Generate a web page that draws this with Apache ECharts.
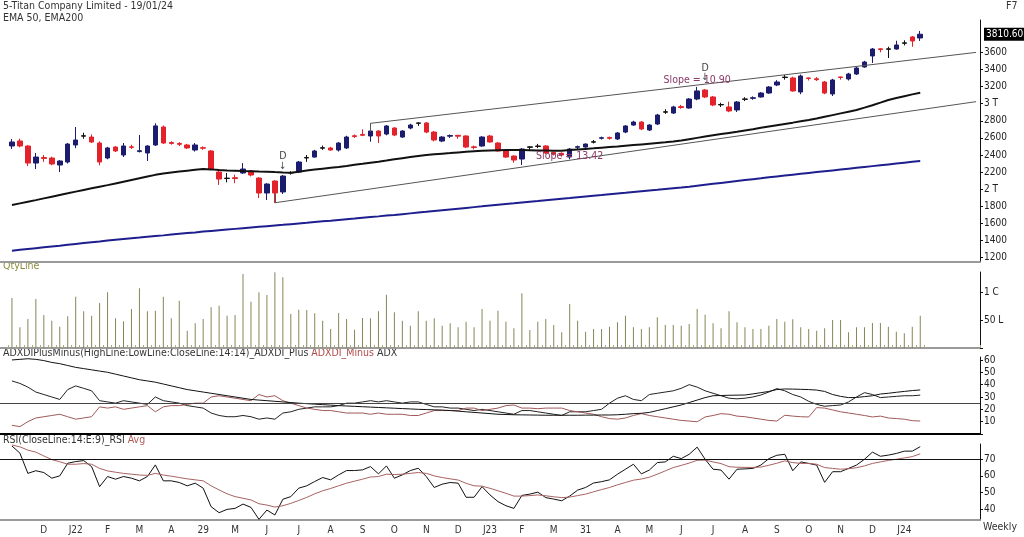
<!DOCTYPE html>
<html><head><meta charset="utf-8">
<script src="https://cdn.jsdelivr.net/npm/echarts@6/dist/echarts.min.js"></script>
<style>html,body{margin:0;padding:0;background:#fff}#c{width:1024px;height:537px}</style>
</head><body><div id="c"></div>
<script>
// weekly candles [open, high, low, close]
const candles = [
[2505,2587,2470,2552],[2564,2590,2490,2505],[2505,2515,2270,2306],[2306,2423,2236,2376],[2370,2400,2320,2360],
[2365,2380,2280,2295],[2283,2340,2200,2330],[2318,2540,2300,2528],[2517,2727,2480,2575],[2620,2660,2590,2625],
[2610,2640,2540,2552],[2540,2560,2280,2318],[2365,2495,2350,2482],[2493,2505,2435,2447],[2400,2540,2376,2505],
[2495,2520,2470,2490],[2440,2634,2430,2450],[2423,2515,2330,2505],[2517,2770,2505,2740],[2727,2745,2530,2540],
[2545,2560,2520,2535],[2535,2550,2505,2525],[2517,2530,2470,2482],[2458,2540,2440,2517],[2485,2500,2460,2480],
[2447,2458,2225,2236],[2201,2215,2050,2119],[2125,2190,2080,2130],[2135,2170,2070,2125],[2190,2305,2180,2236],
[2213,2225,2150,2166],[2131,2140,1897,1956],[1956,2070,1874,2061],[2096,2105,1840,1956],[1968,2166,1945,2154],
[2190,2210,2170,2195],[2201,2330,2190,2318],[2365,2400,2320,2370],[2376,2460,2370,2447],[2480,2510,2460,2485],
[2482,2495,2450,2458],[2458,2550,2440,2540],[2482,2625,2470,2610],[2625,2640,2600,2615],[2640,2700,2620,2630],
[2622,2770,2555,2680],[2680,2690,2540,2622],[2645,2750,2630,2739],[2715,2725,2620,2633],[2610,2690,2600,2680],
[2715,2765,2700,2750],[2770,2780,2740,2775],[2774,2785,2655,2668],[2668,2680,2560,2575],[2563,2620,2550,2610],
[2620,2640,2600,2627],[2630,2632,2590,2620],[2622,2630,2480,2493],[2495,2510,2465,2488],[2505,2620,2495,2610],
[2622,2635,2545,2552],[2540,2550,2440,2447],[2447,2455,2365,2376],[2388,2395,2310,2341],[2353,2480,2283,2470],
[2490,2500,2460,2495],[2500,2530,2480,2505],[2505,2515,2410,2423],[2430,2440,2395,2410],[2420,2430,2380,2400],
[2376,2480,2350,2470],[2490,2510,2470,2497],[2493,2535,2485,2528],[2550,2575,2535,2555],[2595,2615,2580,2602],
[2605,2615,2580,2595],[2587,2668,2575,2657],[2668,2750,2655,2739],[2750,2800,2740,2785],[2785,2795,2690,2704],
[2692,2760,2680,2750],[2762,2880,2750,2867],[2900,2935,2880,2905],[2890,2975,2880,2961],[2965,2985,2940,2955],
[2949,3065,2940,3054],[3054,3195,3040,3148],[3159,3170,3065,3078],[3078,3090,2970,2984],[2985,3010,2960,2990],
[2961,3023,2900,2914],[2926,3030,2902,3019],[3050,3075,3030,3055],[3062,3085,3045,3069],[3078,3135,3070,3124],
[3124,3205,3115,3194],[3218,3275,3205,3253],[3305,3335,3280,3310],[3300,3315,3140,3148],[3136,3340,3110,3323],
[3300,3305,3270,3295],[3290,3310,3265,3280],[3253,3265,3110,3124],[3113,3290,3089,3276],[3312,3315,3280,3305],
[3288,3360,3270,3346],[3346,3430,3335,3416],[3428,3500,3420,3486],[3557,3650,3475,3638],[3640,3645,3600,3632],
[3635,3665,3533,3640],[3638,3735,3630,3685],[3705,3740,3680,3710],[3779,3790,3665,3732],[3767,3849,3732,3810.6]
];
const ema50 = [1815,1835,1855,1873,1893,1913,1933,1952,1972,1992,2011,2030,2048,2068,2088,2108,2128,2148,2168,2185,
2196,2207,2217,2227,2236,2232,2225,2220,2216,2212,2210,2207,2205,2200,2196,2193,2205,2218,2230,2240,
2250,2260,2272,2285,2297,2310,2322,2335,2350,2363,2376,2388,2400,2408,2415,2422,2430,2437,2444,2450,
2453,2455,2457,2458,2457,2455,2453,2452,2451,2450,2457,2464,2471,2478,2486,2493,2500,2508,2516,2524,
2532,2540,2548,2557,2570,2585,2600,2615,2630,2644,2658,2672,2687,2702,2718,2733,2748,2763,2778,2794,
2809,2826,2846,2866,2886,2906,2926,2953,2982,3012,3043,3065,3087,3108,3128];
const ema200 = [1282,1292,1302,1312,1322,1332,1341,1351,1361,1371,1381,1390,1400,1409,1418,1427,1435,1444,1453,1461,
1470,1479,1488,1496,1505,1513,1521,1529,1537,1545,1553,1561,1569,1577,1584,1592,1600,1608,1617,1625,
1633,1642,1650,1658,1667,1675,1683,1692,1700,1709,1718,1727,1736,1746,1755,1764,1773,1782,1791,1800,
1810,1819,1828,1836,1845,1854,1862,1871,1880,1889,1897,1906,1915,1924,1932,1941,1950,1958,1967,1976,
1985,1993,2002,2011,2020,2030,2041,2052,2063,2074,2085,2096,2107,2118,2128,2139,2150,2160,2170,2180,
2190,2200,2210,2220,2230,2240,2250,2260,2270,2280,2290,2300,2310,2320,2330];
// volume in millions of shares
const volume = [8.93,3.69,5.18,8.75,5.89,4.88,3.81,5.65,9.17,6.55,
5.77,8.04,9.94,5.30,4.76,6.96,10.65,6.55,6.67,9.17,
5.30,8.45,3.10,4.40,5.18,7.26,7.56,5.77,5.89,13.21,
8.27,9.94,9.46,13.51,12.62,6.07,6.84,6.79,6.19,4.88,
3.39,6.25,5.18,3.27,5.36,5.30,6.55,9.52,6.37,4.88,
3.99,6.55,4.88,5.30,3.99,4.40,3.69,4.70,3.69,6.96,
4.88,6.67,4.70,3.51,9.76,3.21,4.70,5.18,4.11,2.80,
7.86,4.88,2.92,3.39,3.39,3.81,4.58,5.77,3.69,3.39,
3.69,5.48,4.11,4.11,3.99,4.29,6.96,5.95,4.40,3.51,
6.55,4.58,3.69,3.39,3.39,3.99,5.18,4.70,5.12,3.69,
3.39,3.10,3.51,5.00,5.00,2.80,3.69,3.69,4.46,4.46,
3.81,2.92,2.62,3.81,5.77];
const diPlus = [43,41,38,34,32,30,28,36,39,37,35,27,26,25,27,26,25,24,30,27,
26,25,23,22,21,17,15,14,14,15,14,12,13,12,17,18,20,21,22,22,
22,23,25,25,26,27,26,27,26,25,26,26,24,22,22,21,21,20,19,20,
19,18,17,16,19,19,18,17,16,15,18,18,18,19,20,25,29,31,28,27,
32,33,34,35,37,40,38,35,33,31,29,28.5,29,30,31.6,34,36.8,35,32,30,
26.5,24,22.5,23,23.5,26,30,33.5,32,29.5,30,30.5,31,31,31.5];
const diMinus = [7,6,10,13,14,15,16,14,12,13,14,22,21,22,20,21,22,23,18,22,
23,23,24,25,25,30,31,30,29,28,27,32,30,31,27,25,23,21,20,19,
19,18,17,17,17,16,17,16,16,16,15,15,17,19,19,19,19,21,21,19,
20,21,23,23.5,21,21,20.5,21,21,21,19,18,17,16,14,12.5,12,13,15,16.5,
15,14,13,12,11,10.5,9.9,13.8,15,16.5,16,14.5,14,13,12,11,10.5,15.2,14.5,14,
13.8,21.4,21,19.5,18,17,16,15,13.8,14.5,13,12.5,12,10.8,10.5];
const adx = [60,60.5,61,60.5,59.5,58,57,55.5,54,53,52,51,50,48.5,47,45.5,44,43,42,40.5,
39,37.5,36,35,34,33,32,31,30,29,28,27.5,27,26.5,26,25.5,25,24.6,24.2,23.8,
23.4,23,22.7,22.4,22.1,21.8,21.5,21.2,20.9,20.6,20.3,20,19.8,19.6,19.4,19,18.5,18,17.5,17,
16.5,16,15.8,15.6,15.5,15.4,15.3,15.2,15.2,15.2,15.2,15.2,15.3,15.3,15.4,15.4,15.6,16,16.5,16.8,
17.5,19,20.5,22,23.5,25.5,27.5,29.5,31,31.2,31.4,31.5,31.6,32.5,33.5,34.5,36,36.5,36.4,36.2,
36,35.6,34.5,32,30.5,29.5,29.6,30.3,31,32.4,33,33.8,34.5,35.2,35.7];
const rsi = [78,73.7,61.5,63.1,62,58.6,60,67.6,68.6,69.2,65.6,53.5,59.6,58,59.6,58.6,57,59.6,66.6,57,
57,56,54,55.6,52.6,41.4,37.8,39.8,40.4,43,41,33.8,39.4,36.4,45.9,47.5,52.6,54,56.6,59,
57.6,60.6,63.2,63.2,63.6,65.6,61.2,66,58.6,60.6,63.2,64.6,59.6,53,55,56,55.6,47.1,47.1,53.5,
48.5,44.5,42,40.4,48.2,49,50.2,46.9,46,45,47.8,51.4,53,55.7,56.5,57.6,61,64,67,61.2,
63.5,68,68.4,71.8,70.4,73,77.3,70,64,63.5,58,64,64.2,64.5,66.5,70.4,72.4,73,63.1,68.4,
67.5,66.5,56.1,62.5,62.5,64.5,66.5,70,74.3,71.8,72.5,73.5,74.9,74.9,77.6];
const rsiAvg = [78.6,77.5,75.5,74.3,72,69.8,68.5,67,67,67.4,67,64.5,63,62.2,61.5,61,60.5,60.3,61.5,60.5,
59.8,59,58.2,57.6,57,54,51.5,49.2,47.5,46.5,45.5,43.2,42.4,41.2,42,43.4,45.2,47,49.2,51,
52.4,54,55.6,56.8,58,59.3,59.6,61,60.8,61,61.5,62,61.5,60,59,58.2,57.5,55.5,54,53.8,
52.5,51,49.5,47.8,47.8,48.1,48.5,48,47.4,46.9,47.2,48.1,49,50.4,51.7,53,54.6,56,57.4,58.1,
59.2,61,63,65,66.3,67.7,69.4,69.5,68.4,67.4,65.5,65.2,65.1,65.1,65.3,66.4,67.6,69,68,67.5,
67.5,67,65,64.5,64,64.3,64.9,66,67.5,68.4,69.3,70,70.8,71.6,73.3];
const tickLabels = ['D','J22','F','M','A','29','M','J','J','A','S','O','N','D','J23','F','M','31','A','M','J','J','A','S','O','N','D','J24'];
const firstTickWeek = 4, tickEveryWeeks = 4;
const priceTicks = [1200,1400,1600,1800,2000,2200,2400,2600,2800,3000,3200,3400,3600];
const volTicks = [0,5,10];
const adxTicks = [0,10,20,30,40,50,60];
const rsiTicks = [40,50,60,70];
// trend channels: start week, start value, base of start tick, slope per week
const channels = [
  {start:45, value:2770, base:2672, slope:10.90},
  {start:33, value:1842, base:1952, slope:13.42}
];
const slopeNotes = [{week:86, value:3276, text:'Slope = 10.90'},{week:70, value:2388, text:'Slope = 13.42'}];
const dMarks = [{week:34, value:2330},{week:87, value:3360}];
const lastPrice = 3810.60;

const LEAD = 1, TRAIL = 7, N = candles.length;
const cats = [];
for (let k = 0; k < LEAD + N + TRAIL; k++) cats.push('c' + k);
const X = i => i + LEAD;
const labelByCat = {};
tickLabels.forEach((t, k) => { labelByCat[cats[X(firstTickWeek + k * tickEveryWeeks)]] = t; });
const lastCat = cats.length - 1;
const FONT = "'DejaVu Sans Condensed','DejaVu Sans',sans-serif";
const pairs = arr => arr.map((v, i) => [X(i), v]);

function xa(g, extra) {
  return Object.assign({type:'category', gridIndex:g, data:cats, boundaryGap:true,
    axisLabel:{show:false}, axisTick:{show:false}, splitLine:{show:false},
    axisLine:{show:true, lineStyle:{color:'#9a9a9a', width:2}}}, extra || {});
}
function ya(g, min, max, ticks, fmt) {
  return {type:'value', gridIndex:g, position:'right', min:min, max:max, scale:false,
    axisLine:{show:true, lineStyle:{color:'#111', width:1}},
    axisTick:{show:true, length:3, customValues:ticks, lineStyle:{color:'#111'}},
    axisLabel:{customValues:ticks, formatter:fmt, color:'#222', fontSize:10, fontFamily:FONT, margin:4},
    splitLine:{show:false}};
}

const candleData = candles.map((r, i) => {
  const item = {value:[X(i), r[0], r[3], r[2], r[1]]};
  if (r[3] >= r[0] && r[3] - r[0] <= 5) item.itemStyle = {color:'#111', borderColor:'#111'};
  return item;
});

const channelLines = [];
channels.forEach(c => {
  channelLines.push([{coord:[cats[X(c.start)], c.base]}, {coord:[cats[X(c.start)], c.value]}]);
  channelLines.push([{coord:[cats[X(c.start)], c.value]}, {coord:[cats[lastCat], c.value + c.slope * (lastCat - X(c.start))]}]);
});

const marks = [];
slopeNotes.forEach(s => marks.push({coord:[cats[X(s.week)], s.value], symbolSize:0,
  label:{show:true, formatter:s.text, color:'#8a3a66', fontSize:10.5, fontFamily:FONT}}));
dMarks.forEach(d => marks.push({coord:[cats[X(d.week)], d.value], symbolSize:0,
  label:{show:true, formatter:'{a|D}\n{b|↓}', rich:{a:{fontSize:10.5, color:'#444', fontFamily:FONT, lineHeight:10}, b:{fontSize:10, color:'#444', lineHeight:9}}}}));

const fmtPrice = v => v === 2000 ? '2 T' : v === 3000 ? '3 T' : String(v);
const fmtVol = v => v === 10 ? '1 C' : v === 5 ? '50 L' : '';
const fmtAdx = v => v === 0 ? '' : String(v);

const option = {
  animation:false,
  textStyle:{fontFamily:FONT},
  grid:[
    {left:0, right:44, top:20, height:242},
    {left:0, right:44, top:272, height:76},
    {left:0, right:44, top:357, height:77},
    {left:0, right:44, top:444, height:76}
  ],
  xAxis:[
    xa(0),
    xa(1, {axisTick:{show:true, inside:true, length:3, interval:(i) => i >= LEAD && i <= X(N), lineStyle:{color:'#a8a878'}}}),
    xa(2, {axisLine:{show:true, lineStyle:{color:'#000', width:2}}}),
    xa(3, {axisLabel:{show:true, interval:(i, v) => v in labelByCat, formatter:v => labelByCat[v] || '',
      color:'#333', fontSize:10, fontFamily:FONT, margin:5}})
  ],
  yAxis:[
    ya(0, 1150, 3977, priceTicks, fmtPrice),
    ya(1, 0, 13.57, volTicks, fmtVol),
    ya(2, 0, 62.4, adxTicks, fmtAdx),
    ya(3, 33.4, 79.2, rsiTicks, v => String(v))
  ],
  graphic:[
    {type:'text', left:3, top:1, style:{text:'5-Titan Company Limited - 19/01/24', fill:'#333', font:'10.5px ' + FONT}},
    {type:'text', left:3, top:13, style:{text:'EMA 50, EMA200', fill:'#333', font:'10.5px ' + FONT}},
    {type:'text', left:1006, top:1, style:{text:'F7', fill:'#333', font:'10.5px ' + FONT}},
    {type:'text', left:3, top:261, style:{text:'QtyLine', fill:'#8c8c3c', font:'10.5px ' + FONT}},
    {type:'text', left:3, top:348, style:{text:'{k|ADXDIPlusMinus(HighLine:LowLine:CloseLine:14:14)_ADXDI_Plus }{r|ADXDI_Minus}{k| ADX}',
      rich:{k:{fill:'#333', font:'10.5px ' + FONT}, r:{fill:'#b04848', font:'10.5px ' + FONT}}}},
    {type:'text', left:3, top:435, style:{text:'{k|RSI(CloseLine:14:E:9)_RSI }{r|Avg}',
      rich:{k:{fill:'#333', font:'10.5px ' + FONT}, r:{fill:'#b05a5a', font:'10.5px ' + FONT}}}},
    {type:'text', left:983, top:522, style:{text:'Weekly', fill:'#333', font:'10.5px ' + FONT}}
  ],
  series:[
    {type:'candlestick', xAxisIndex:0, yAxisIndex:0, barWidth:5, clip:false, encode:{x:0, y:[1,2,3,4]},
      itemStyle:{color:'#1c1c6e', color0:'#e3232b', borderColor:'#1c1c6e', borderColor0:'#e3232b', borderWidth:1},
      data:candleData,
      markLine:{silent:true, symbol:['none','none'], animation:false,
        data:[{yAxis:lastPrice, lineStyle:{width:0, color:'rgba(0,0,0,0)'}, label:{show:true, position:'end', formatter:'3810.60',
          backgroundColor:'#000', color:'#fff', padding:[2,2,1,2], fontSize:10, fontFamily:FONT, distance:4}}]},
      markPoint:{silent:true, symbol:'circle', data:marks}
    },
    {type:'line', xAxisIndex:0, yAxisIndex:0, data:pairs(ema50), symbol:'none', lineStyle:{color:'#111', width:2},
      markLine:{silent:true, symbol:['none','none'], label:{show:false}, lineStyle:{color:'#555', width:1, type:'solid'}, data:channelLines}},
    {type:'line', xAxisIndex:0, yAxisIndex:0, data:pairs(ema200), symbol:'none', lineStyle:{color:'#1e1e8e', width:2}},
    {type:'bar', xAxisIndex:1, yAxisIndex:1, data:pairs(volume), barWidth:1, itemStyle:{color:'#86865a'}},
    {type:'line', xAxisIndex:2, yAxisIndex:2, data:pairs(diPlus), symbol:'none', lineStyle:{color:'#222', width:1}},
    {type:'line', xAxisIndex:2, yAxisIndex:2, data:pairs(diMinus), symbol:'none', lineStyle:{color:'#a05858', width:1}},
    {type:'line', xAxisIndex:2, yAxisIndex:2, data:pairs(adx), symbol:'none', lineStyle:{color:'#111', width:1},
      markLine:{silent:true, symbol:['none','none'], label:{show:false}, lineStyle:{color:'#444', width:1, type:'solid'}, data:[{yAxis:25}]}},
    {type:'line', xAxisIndex:3, yAxisIndex:3, data:pairs(rsi), symbol:'none', lineStyle:{color:'#111', width:1},
      markLine:{silent:true, symbol:['none','none'], label:{show:false}, lineStyle:{color:'#111', width:1, type:'solid'}, data:[{yAxis:70}]}},
    {type:'line', xAxisIndex:3, yAxisIndex:3, data:pairs(rsiAvg), symbol:'none', lineStyle:{color:'#a86262', width:1}}
  ]
};
const chart = echarts.init(document.getElementById('c'), null, {renderer:'canvas'});
chart.setOption(option);
</script></body></html>
